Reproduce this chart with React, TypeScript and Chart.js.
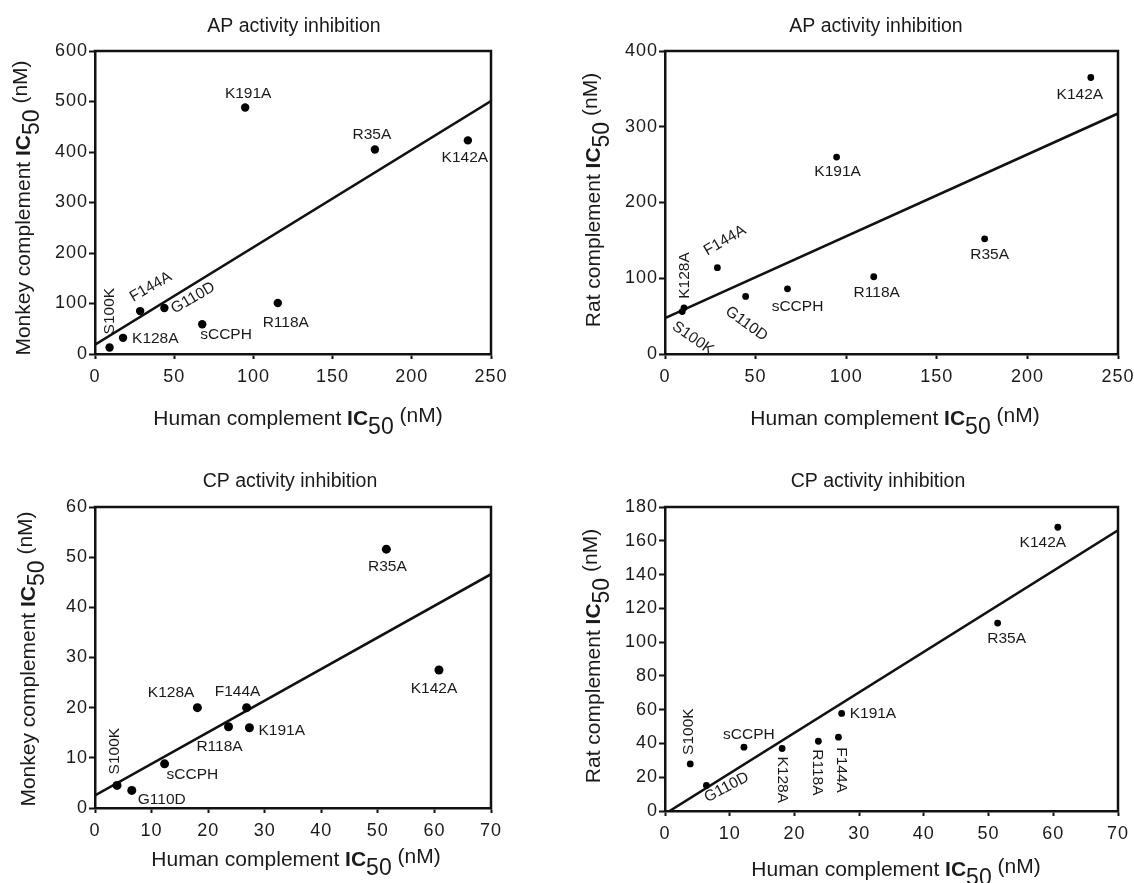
import React, { useEffect, useRef } from 'react';
import { Chart, registerables } from 'chart.js';

Chart.register(...registerables);

// ---------- data ----------
const mutants = ['S100K', 'K128A', 'F144A', 'G110D', 'sCCPH', 'K191A', 'R118A', 'R35A', 'K142A'];

// AP activity: human (x) vs monkey (y)
const apMonkeyPanelHuman = [9.2, 17.7, 28.5, 43.8, 67.7, 94.8, 115.4, 176.7, 235.4];
const apMonkeyValues = [13, 32, 85, 91, 59, 488, 101, 405, 423];
const apMonkeyFitX = [0, 250];
const apMonkeyFitY = [18.5, 501];

// AP activity: human (x) vs rat (y)
const apRatPanelHuman = [9.5, 10.5, 28.9, 44.5, 67.6, 94.7, 115.2, 176.4, 235.0];
const apRatValues = [56, 61, 114, 76, 86, 260, 102, 152, 365];
const apRatFitX = [0, 250];
const apRatFitY = [47.4, 317.5];

// CP activity: human (x) vs monkey (y)
const cpMonkeyPanelHuman = [3.9, 18.1, 26.8, 6.5, 12.3, 27.3, 23.6, 51.5, 60.8];
const cpMonkeyValues = [4.5, 20.0, 20.0, 3.5, 8.8, 16.0, 16.2, 51.6, 27.5];
const cpMonkeyFitX = [0, 70];
const cpMonkeyFitY = [2.5, 46.6];

// CP activity: human (x) vs rat (y)
const cpRatPanelHuman = [3.9, 18.1, 26.8, 6.4, 12.2, 27.3, 23.7, 51.4, 60.7];
const cpRatValues = [27.9, 37.0, 43.7, 15.1, 37.8, 57.8, 41.3, 111.3, 168.0];
const cpRatFitX = [0.7, 70];
const cpRatFitY = [0, 166.2];

// tick labels
const apHumanTicks = [0, 50, 100, 150, 200, 250];
const apMonkeyTicks = [0, 100, 200, 300, 400, 500, 600];
const apRatTicks = [0, 100, 200, 300, 400];
const cpHumanTicks = [0, 10, 20, 30, 40, 50, 60, 70];
const cpMonkeyTicks = [0, 10, 20, 30, 40, 50, 60];
const cpRatTicks = [0, 20, 40, 60, 80, 100, 120, 140, 160, 180];

const titles = ['AP activity inhibition', 'AP activity inhibition', 'CP activity inhibition', 'CP activity inhibition'];
const ySpecies = ['Monkey complement ', 'Rat complement ', 'Monkey complement ', 'Rat complement '];
const xSpecies = 'Human complement ';

// ---------- layout / styles ----------
const FAMILY = '"Liberation Sans", Arial, Helvetica, sans-serif';
const INK = '#1a1a1a';

type Spec = { dx: number; dy: number; rot: number; align: CanvasTextAlign; base: CanvasTextBaseline };
const S = (dx: number, dy: number, rot: number, align: CanvasTextAlign, base: CanvasTextBaseline): Spec => ({ dx, dy, rot, align, base });

const labelSpecs: Record<string, Spec>[] = [
  {
    S100K: S(0, -13, -90, 'left', 'middle'),
    K128A: S(9, 1, 0, 'left', 'middle'),
    F144A: S(-7, -9, -30, 'left', 'alphabetic'),
    G110D: S(8, 2, -30, 'left', 'middle'),
    sCCPH: S(-2, 11, 0, 'left', 'middle'),
    K191A: S(3, -14, 0, 'center', 'middle'),
    R118A: S(8, 20, 0, 'center', 'middle'),
    R35A: S(-3, -15, 0, 'center', 'middle'),
    K142A: S(-3, 17, 0, 'center', 'middle'),
  },
  {
    S100K: S(-4, 7, 35, 'left', 'top'),
    K128A: S(1, -9, -90, 'left', 'middle'),
    F144A: S(-10, -12, -30, 'left', 'alphabetic'),
    G110D: S(-14, 7, 36, 'left', 'top'),
    sCCPH: S(10, 18, 0, 'center', 'middle'),
    K191A: S(1, 15, 0, 'center', 'middle'),
    R118A: S(3, 16, 0, 'center', 'middle'),
    R35A: S(5, 16, 0, 'center', 'middle'),
    K142A: S(-11, 17, 0, 'center', 'middle'),
  },
  {
    S100K: S(-2, -11, -90, 'left', 'middle'),
    K128A: S(-3, -15, 0, 'right', 'middle'),
    F144A: S(-9, -16, 0, 'center', 'middle'),
    G110D: S(6, 9, 0, 'left', 'middle'),
    sCCPH: S(2, 11, 0, 'left', 'middle'),
    K191A: S(9, 3, 0, 'left', 'middle'),
    R118A: S(-9, 20, 0, 'center', 'middle'),
    R35A: S(1, 18, 0, 'center', 'middle'),
    K142A: S(-5, 19, 0, 'center', 'middle'),
  },
  {
    S100K: S(-2, -9, -90, 'left', 'middle'),
    K128A: S(0, 8, 90, 'left', 'middle'),
    F144A: S(3, 10, 90, 'left', 'middle'),
    G110D: S(1, 17, -28, 'left', 'alphabetic'),
    sCCPH: S(5, -12, 0, 'center', 'middle'),
    K191A: S(8, 0, 0, 'left', 'middle'),
    R118A: S(-1, 8, 90, 'left', 'middle'),
    R35A: S(9, 16, 0, 'center', 'middle'),
    K142A: S(-15, 15, 0, 'center', 'middle'),
  },
];

type Panel = {
  left: number; top: number; width: number; height: number;
  pad: { left: number; right: number; top: number; bottom: number };
  xs: number[]; ys: number[]; fitX: number[]; fitY: number[];
  xTicks: number[]; yTicks: number[];
  radius: number;
  titleX: number; titleY: number;
  xTitleX: number; xTitleY: number;
  yTitleX: number; yTitleY: number;
};

const Y_AXIS_W = 60;
const X_AXIS_H = 40;

const panels: Panel[] = [
  {
    left: 0, top: 0, width: 567, height: 441,
    pad: { left: 35, right: 76, top: 51, bottom: 47 },
    xs: apMonkeyPanelHuman, ys: apMonkeyValues, fitX: apMonkeyFitX, fitY: apMonkeyFitY,
    xTicks: apHumanTicks, yTicks: apMonkeyTicks, radius: 4.2,
    titleX: 294, titleY: 32, xTitleX: 298, xTitleY: 424.5, yTitleX: 30, yTitleY: 208,
  },
  {
    left: 567, top: 0, width: 600, height: 441,
    pad: { left: 38, right: 49, top: 51, bottom: 47 },
    xs: apRatPanelHuman, ys: apRatValues, fitX: apRatFitX, fitY: apRatFitY,
    xTicks: apHumanTicks, yTicks: apRatTicks, radius: 3.4,
    titleX: 309, titleY: 32, xTitleX: 328, xTitleY: 425, yTitleX: 33, yTitleY: 200,
  },
  {
    left: 0, top: 441, width: 567, height: 442,
    pad: { left: 35, right: 76, top: 66, bottom: 35 },
    xs: cpMonkeyPanelHuman, ys: cpMonkeyValues, fitX: cpMonkeyFitX, fitY: cpMonkeyFitY,
    xTicks: cpHumanTicks, yTicks: cpMonkeyTicks, radius: 4.5,
    titleX: 290, titleY: 46, xTitleX: 296, xTitleY: 425, yTitleX: 35, yTitleY: 218,
  },
  {
    left: 567, top: 441, width: 600, height: 442,
    pad: { left: 38, right: 49, top: 66, bottom: 32 },
    xs: cpRatPanelHuman, ys: cpRatValues, fitX: cpRatFitX, fitY: cpRatFitY,
    xTicks: cpHumanTicks, yTicks: cpRatTicks, radius: 3.4,
    titleX: 311, titleY: 46, xTitleX: 329, xTitleY: 435, yTitleX: 33, yTitleY: 215,
  },
];

type Part = { text: string; font: string; dy: number };

function axisParts(name: string): Part[] {
  return [
    { text: name, font: `21px ${FAMILY}`, dy: 0 },
    { text: 'IC', font: `bold 21px ${FAMILY}`, dy: 0 },
    { text: '50', font: `23px ${FAMILY}`, dy: 9 },
    { text: ' (nM)', font: `21px ${FAMILY}`, dy: -3 },
  ];
}

function drawParts(ctx: CanvasRenderingContext2D, parts: Part[]) {
  let total = 0;
  const widths = parts.map((p) => {
    ctx.font = p.font;
    const w = ctx.measureText(p.text).width;
    total += w;
    return w;
  });
  let x = -total / 2;
  ctx.textAlign = 'left';
  ctx.textBaseline = 'alphabetic';
  parts.forEach((p, i) => {
    ctx.font = p.font;
    ctx.fillText(p.text, x, p.dy);
    x += widths[i];
  });
}

function makePlugin(idx: number) {
  const panel = panels[idx];
  const specs = labelSpecs[idx];
  return {
    id: 'panelDecor' + idx,
    beforeDraw(chart: any) {
      (chart.ctx as any).letterSpacing = '1px';
    },
    afterDatasetsDraw(chart: any) {
      const ctx: CanvasRenderingContext2D = chart.ctx;
      ctx.save();
      (ctx as any).letterSpacing = '0px';
      const { left, right, top, bottom } = chart.chartArea;
      // top and right frame
      ctx.strokeStyle = '#111';
      ctx.lineWidth = 2.5;
      ctx.lineCap = 'square';
      ctx.beginPath();
      ctx.moveTo(left, top);
      ctx.lineTo(right, top);
      ctx.lineTo(right, bottom);
      ctx.stroke();

      // point labels
      ctx.fillStyle = INK;
      ctx.font = `15.5px ${FAMILY}`;
      const meta = chart.getDatasetMeta(0);
      meta.data.forEach((pt: any, i: number) => {
        const name = mutants[i];
        const sp = specs[name];
        ctx.save();
        ctx.translate(pt.x + sp.dx, pt.y + sp.dy);
        ctx.rotate((sp.rot * Math.PI) / 180);
        ctx.textAlign = sp.align;
        ctx.textBaseline = sp.base;
        ctx.fillText(name, 0, 0);
        ctx.restore();
      });

      // title
      ctx.font = `19.5px ${FAMILY}`;
      ctx.textAlign = 'center';
      ctx.textBaseline = 'alphabetic';
      ctx.fillText(titles[idx], panel.titleX, panel.titleY);

      // x axis title
      ctx.save();
      ctx.translate(panel.xTitleX, panel.xTitleY);
      drawParts(ctx, axisParts(xSpecies));
      ctx.restore();

      // y axis title
      ctx.save();
      ctx.translate(panel.yTitleX, panel.yTitleY);
      ctx.rotate(-Math.PI / 2);
      drawParts(ctx, axisParts(ySpecies[idx]));
      ctx.restore();

      ctx.restore();
    },
  };
}

function PanelChart({ idx }: { idx: number }) {
  const ref = useRef<HTMLCanvasElement | null>(null);
  const panel = panels[idx];
  useEffect(() => {
    if (!ref.current) return;
    const tickFont = { family: FAMILY, size: 18 };
    const chart = new Chart(ref.current, {
      type: 'scatter',
      data: {
        datasets: [
          {
            label: 'mutants',
            data: panel.xs.map((x, i) => ({ x, y: panel.ys[i] })),
            backgroundColor: '#000',
            borderWidth: 0,
            pointRadius: panel.radius,
            pointHoverRadius: panel.radius,
          },
          {
            type: 'line',
            label: 'fit',
            data: panel.fitX.map((x, i) => ({ x, y: panel.fitY[i] })),
            borderColor: '#111',
            borderWidth: 2.6,
            pointRadius: 0,
            fill: false,
            tension: 0,
          } as any,
        ],
      },
      options: {
        responsive: false,
        maintainAspectRatio: false,
        devicePixelRatio: 1,
        animation: false,
        events: [],
        layout: { padding: panel.pad, autoPadding: false } as any,
        plugins: { legend: { display: false }, title: { display: false }, tooltip: { enabled: false } },
        scales: {
          x: {
            type: 'linear',
            min: panel.xTicks[0],
            max: panel.xTicks[panel.xTicks.length - 1],
            afterBuildTicks: (s: any) => {
              s.ticks = panel.xTicks.map((v) => ({ value: v }));
            },
            afterFit: (s: any) => {
              s.height = X_AXIS_H;
            },
            ticks: { color: INK, font: tickFont, padding: 7, autoSkip: false, maxRotation: 0, callback: (v: any) => String(v) },
            grid: { display: true, drawOnChartArea: false, drawTicks: true, tickLength: 5, tickColor: '#111', tickWidth: 2 },
            border: { display: true, color: '#111', width: 2.5 },
          },
          y: {
            type: 'linear',
            min: panel.yTicks[0],
            max: panel.yTicks[panel.yTicks.length - 1],
            afterBuildTicks: (s: any) => {
              s.ticks = panel.yTicks.map((v) => ({ value: v }));
            },
            afterFit: (s: any) => {
              s.width = Y_AXIS_W;
            },
            ticks: { color: INK, font: tickFont, padding: 1, autoSkip: false, callback: (v: any) => String(v) },
            grid: { display: true, drawOnChartArea: false, drawTicks: true, tickLength: 6, tickColor: '#111', tickWidth: 2 },
            border: { display: true, color: '#111', width: 2.5 },
          },
        },
      },
      plugins: [makePlugin(idx)],
    } as any);
    return () => chart.destroy();
  }, [idx]);
  return (
    <canvas
      ref={ref}
      width={panel.width}
      height={panel.height}
      style={{ position: 'absolute', left: panel.left, top: panel.top, width: panel.width, height: panel.height }}
    />
  );
}

export default function App() {
  return (
    <div style={{ position: 'absolute', left: 0, top: 0, width: 1134, height: 883, background: '#fff', overflow: 'hidden' }}>
      {panels.map((_, i) => (
        <PanelChart key={i} idx={i} />
      ))}
    </div>
  );
}
